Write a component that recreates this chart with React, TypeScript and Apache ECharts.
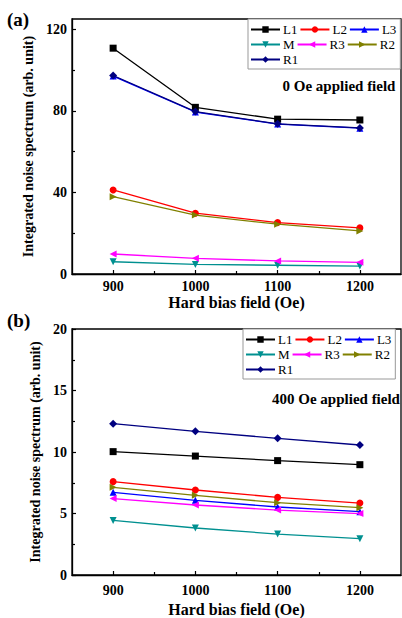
import React, { useEffect, useRef } from 'react';
import * as echarts from 'echarts';

const fields = [900, 1000, 1100, 1200];
const minorFields = [950, 1050, 1150];
const seriesNames = ['L1', 'L2', 'L3', 'M', 'R3', 'R2', 'R1'];

// Panel (a): 0 Oe applied field
const aL1 = [110.7, 81.7, 75.9, 75.5];
const aL2 = [41.2, 29.8, 25.2, 22.6];
const aL3 = [97.0, 79.4, 73.5, 71.5];
const aM = [6.0, 4.7, 4.3, 3.9];
const aR3 = [9.8, 7.7, 6.4, 5.7];
const aR2 = [37.9, 28.9, 24.4, 21.1];
const aR1 = [97.3, 79.6, 73.6, 71.6];

// Panel (b): 400 Oe applied field
const bL1 = [10.03, 9.67, 9.3, 8.97];
const bL2 = [7.59, 6.91, 6.31, 5.85];
const bL3 = [6.72, 6.07, 5.53, 5.15];
const bM = [4.44, 3.82, 3.33, 2.95];
const bR3 = [6.21, 5.69, 5.28, 4.99];
const bR2 = [7.13, 6.48, 5.88, 5.47];
const bR1 = [12.3, 11.68, 11.11, 10.57];

const aTicks = [0, 40, 80, 120];
const aMinor = [20, 60, 100];
const bTicks = [0, 5, 10, 15, 20];
const bMinor = [2.5, 7.5, 12.5, 17.5];

const colors = ['#000000', '#ff0000', '#0000ff', '#009090', '#ff00ff', '#808000', '#000080'];
const symbols = ['rect', 'circle', 'triangle', 'triangle', 'triangle', 'triangle', 'diamond'];
const rotations = [0, 0, 0, 180, 90, -90, 0];

const FONT = 'Liberation Serif';

export default function App() {
  const ref = useRef<HTMLDivElement>(null);
  useEffect(() => {
    document.body.style.margin = '0';
    if (!ref.current) return;
    const chart = echarts.init(ref.current, null, { renderer: 'svg' });
    const panels = [
      [aL1, aL2, aL3, aM, aR3, aR2, aR1],
      [bL1, bL2, bL3, bM, bR3, bR2, bR1],
    ];
    const series: any[] = [];
    panels.forEach((vals, p) => {
      vals.forEach((v, i) => {
        series.push({
          type: 'line',
          name: seriesNames[i],
          xAxisIndex: p * 2,
          yAxisIndex: p * 2,
          data: fields.map((f, k) => [f, v[k]]),
          symbol: symbols[i],
          symbolRotate: rotations[i],
          symbolSize: i === 6 ? 8 : 7,
          lineStyle: { color: colors[i], width: 1.3 },
          itemStyle: { color: colors[i] },
          z: 2 + i,
        });
      });
    });

    const labelStyle = { fontFamily: FONT, fontWeight: 'bold', color: '#000', fontSize: 14 };
    const nameStyle = { fontFamily: FONT, fontWeight: 'bold', color: '#000' };
    const fmt = (v: number) => String(v);

    const mkX = (g: number, margin: number, gap: number) => [
      {
        gridIndex: g, type: 'value', min: 850, max: 1250, position: 'bottom',
        axisLine: { show: true, lineStyle: { color: '#000', width: 1.3 } },
        axisTick: { show: true, inside: true, length: 4, customValues: fields, lineStyle: { color: '#000', width: 1.2 } },
        axisLabel: { customValues: fields, margin, formatter: fmt, ...labelStyle },
        splitLine: { show: false },
        name: 'Hard bias field (Oe)', nameLocation: 'middle', nameGap: gap,
        nameTextStyle: { ...nameStyle, fontSize: 16 },
      },
      {
        gridIndex: g, type: 'value', min: 850, max: 1250, position: 'bottom',
        axisLine: { show: false },
        axisTick: { show: true, inside: true, length: 3, customValues: minorFields, lineStyle: { color: '#000', width: 1.2 } },
        axisLabel: { show: false },
        splitLine: { show: false },
      },
    ];
    const mkY = (g: number, max: number, ticks: number[], minor: number[]) => [
      {
        gridIndex: g, type: 'value', min: 0, max, position: 'left',
        axisLine: { show: true, lineStyle: { color: '#000', width: 1.3 } },
        axisTick: { show: true, inside: true, length: 4, customValues: ticks, lineStyle: { color: '#000', width: 1.2 } },
        axisLabel: { customValues: ticks, margin: 5, formatter: fmt, ...labelStyle },
        splitLine: { show: false },
        name: 'Integrated noise spectrum (arb. unit)', nameLocation: 'middle', nameGap: 27,
        nameTextStyle: { ...nameStyle, fontSize: 14 },
      },
      {
        gridIndex: g, type: 'value', min: 0, max, position: 'left',
        axisLine: { show: false },
        axisTick: { show: true, inside: true, length: 3, customValues: minor, lineStyle: { color: '#000', width: 1.2 } },
        axisLabel: { show: false },
        splitLine: { show: false },
      },
    ];

    const legendBase = {
      orient: 'horizontal',
      width: 172,
      itemWidth: 29,
      itemHeight: 8,
      itemGap: 2,
      padding: [4, 4, 3, 2],
      borderColor: '#999',
      borderWidth: 1,
      backgroundColor: '#fff',
      textStyle: { fontFamily: FONT, fontSize: 13, color: '#000', padding: [0, 0, 0, -2] },
      data: seriesNames,
      selectedMode: false,
    };

    chart.setOption({
      animation: false,
      grid: [
        { left: 72, top: 19, right: 1, height: 255, show: true, borderColor: '#000', borderWidth: 1.3, backgroundColor: 'transparent' },
        { left: 72, top: 329, right: 1, height: 246, show: true, borderColor: '#000', borderWidth: 1.3, backgroundColor: 'transparent' },
      ],
      xAxis: [...mkX(0, 5, 20), ...mkX(1, 8, 26)],
      yAxis: [...mkY(0, 125, aTicks, aMinor), ...mkY(1, 20, bTicks, bMinor)],
      legend: [
        { ...legendBase, left: 248, top: 19 },
        { ...legendBase, left: 243, top: 329 },
      ],
      graphic: [
        { type: 'text', x: 7, y: 19, style: { text: '(a)', font: `bold 19px ${FONT}`, fill: '#000', verticalAlign: 'middle' } },
        { type: 'text', x: 7, y: 320, style: { text: '(b)', font: `bold 19px ${FONT}`, fill: '#000', verticalAlign: 'middle' } },
        { type: 'text', x: 339, y: 86, style: { text: '0 Oe applied field', font: `bold 15px ${FONT}`, fill: '#000', align: 'center', verticalAlign: 'middle' } },
        { type: 'text', x: 336, y: 399, style: { text: '400 Oe applied field', font: `bold 15px ${FONT}`, fill: '#000', align: 'center', verticalAlign: 'middle' } },
      ],
      series,
    });
    return () => chart.dispose();
  }, []);
  return <div ref={ref} style={{ width: 402, height: 618 }} />;
}
